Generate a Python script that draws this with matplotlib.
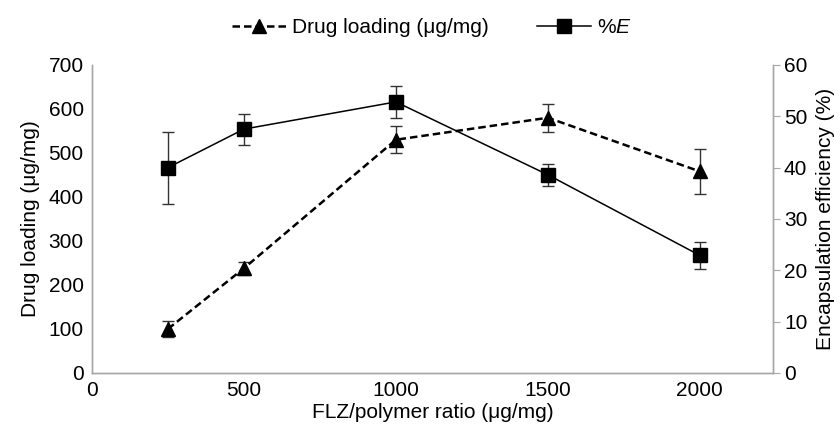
import matplotlib
matplotlib.use('Agg')
import matplotlib.pyplot as plt
from matplotlib.lines import Line2D

plt.rcParams['font.family'] = ['Liberation Sans', 'DejaVu Sans']
plt.rcParams['mathtext.fontset'] = 'custom'
plt.rcParams['mathtext.rm'] = 'Liberation Sans'
plt.rcParams['mathtext.it'] = 'Liberation Sans:italic'

# data
ratio = [250, 500, 1000, 1500, 2000]
loading = [100, 238, 530, 580, 458]
loading_err = [18, 15, 31, 32, 52]
ee = [40, 47.5, 52.8, 38.6, 22.9]
ee_err = [7, 3, 3.1, 2.2, 2.6]

x_ticks = [0, 500, 1000, 1500, 2000]
left_ticks = [0, 100, 200, 300, 400, 500, 600, 700]
right_ticks = [0, 10, 20, 30, 40, 50, 60]

fs = 15
spine_col = '#a6a6a6'

fig = plt.figure(figsize=(8.4, 4.3), dpi=100)
ax = fig.add_axes([0.1095, 0.1326, 0.8105, 0.7164])
ax2 = ax.twinx()

ax.errorbar(ratio, loading, yerr=loading_err, color='black', ls=(0, (3, 1.6)), lw=1.8,
            marker='^', ms=10, capsize=4, elinewidth=1, ecolor='#333333', zorder=3)
ax2.errorbar(ratio, ee, yerr=ee_err, color='black', ls='-', lw=1.1,
             marker='s', ms=9.5, capsize=4, elinewidth=1, ecolor='#333333', zorder=3)

ax.set_xlim(0, 2240)
ax.set_ylim(0, 700)
ax2.set_ylim(0, 60)
ax.set_xticks(x_ticks)
ax.set_yticks(left_ticks)
ax2.set_yticks(right_ticks)

for a in (ax, ax2):
    a.spines['top'].set_visible(False)
    for s in ('left', 'right', 'bottom'):
        a.spines[s].set_color(spine_col)
        a.spines[s].set_linewidth(1.0)
ax.tick_params(axis='both', length=0, labelsize=fs, pad=6)
ax2.tick_params(axis='y', length=5, color=spine_col, labelsize=fs, pad=3)

ax.set_xlabel('FLZ/polymer ratio (μg/mg)', fontsize=fs, labelpad=2)
ax.set_ylabel('Drug loading (μg/mg)', fontsize=fs, labelpad=6)
ax2.set_ylabel('Encapsulation efficiency (%)', fontsize=fs, labelpad=6)

handles = [
    Line2D([], [], color='black', ls=(0, (3, 1.6)), lw=1.8, marker='^', ms=10),
    Line2D([], [], color='black', ls='-', lw=1.1, marker='s', ms=9.5),
]
fig.legend(handles, ['Drug loading (μg/mg)', '%$\\mathit{E}$'], loc='center',
           bbox_to_anchor=(0.514, 0.935), ncol=2, frameon=False, fontsize=fs,
           handlelength=2.6, handletextpad=0.3, columnspacing=2.3)

fig.savefig('out.png', dpi=100)
